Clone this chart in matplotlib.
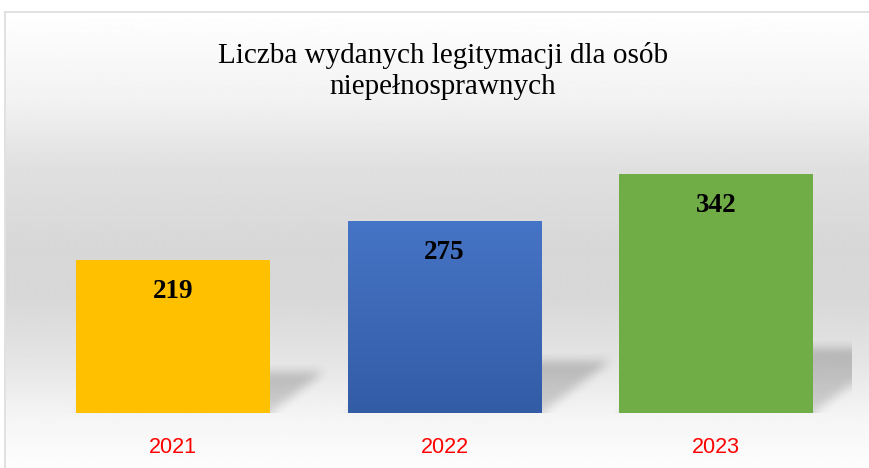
"""Liczba wydanych legitymacji dla osób niepełnosprawnych, 2021-2023."""

import numpy as np
import matplotlib

matplotlib.use("Agg")
import matplotlib.pyplot as plt  # noqa: E402
from matplotlib.colors import LinearSegmentedColormap  # noqa: E402

YEARS = ["2021", "2022", "2023"]
VALUES = [219, 275, 342]
BAR_COLORS = ["#FFC000", "#4472C4", "#70AD47"]
TITLE_LINES = ["Liczba wydanych legitymacji dla osób", "niepełnosprawnych"]

W_PX, H_PX = 869, 468
YMAX = 400


def box_blur(a, r):
    for axis in (0, 1):
        pad = [(0, 0), (0, 0)]
        pad[axis] = (r + 1, r)
        c = np.cumsum(np.pad(a, pad, mode="edge"), axis=axis)
        if axis == 0:
            a = (c[2 * r + 1:, :] - c[:-2 * r - 1, :]) / (2 * r + 1)
        else:
            a = (c[:, 2 * r + 1:] - c[:, :-2 * r - 1]) / (2 * r + 1)
    return a


def main():
    fig = plt.figure(figsize=(W_PX / 100, H_PX / 100), dpi=100)

    # background panel with vertical grey gradient and thin border
    bg = fig.add_axes([0, 0, 1, 1])
    bg.set_xlim(0, W_PX)
    bg.set_ylim(H_PX, 0)
    bg.axis("off")
    stops_y = [12, 100, 167, 250, 300, 367, 417, 468]
    stops_g = [255, 242, 224, 215, 216, 230, 245, 253]
    yy = np.arange(12, H_PX + 1)
    gray = np.interp(yy, stops_y, stops_g) / 255.0
    grad = np.repeat(gray[:, None], 2, axis=1)
    bg.imshow(grad, cmap="gray", vmin=0, vmax=1, aspect="auto",
              extent=[6, W_PX, H_PX, 12], interpolation="bilinear")
    bg.plot([5, W_PX], [12, 12], color="#dcdcdc", lw=1.2)
    bg.plot([5, 5], [12, H_PX], color="#dcdcdc", lw=1.2)

    # main plot area
    left, right, base = 37, 852, 413
    ax_h = YMAX * 0.699
    ax = fig.add_axes([left / W_PX, (H_PX - base) / H_PX,
                       (right - left) / W_PX, ax_h / H_PX])
    ax.set_xlim(-0.5, len(YEARS) - 0.5)
    ax.set_ylim(0, YMAX)
    ax.axis("off")
    ax.patch.set_alpha(0)

    # soft perspective shadows behind the bars
    nx, ny = int(right - left), int(ax_h)
    px_x = (right - left) / len(YEARS)
    px_y = ax_h / YMAX
    xs = np.arange(nx) + 0.5
    ys = np.arange(ny) + 0.5
    X, Y = np.meshgrid(xs, ys)
    width = 0.712
    mask = np.zeros((ny, nx))
    for i, v in enumerate(VALUES):
        hpx = v * px_y
        d, h = 0.36 * hpx, 0.27 * hpx
        xl = (i + 0.5 - width / 2) * px_x
        xr = (i + 0.5 + width / 2) * px_x
        sx = X - Y * d / h
        inside = (Y <= h) & (sx >= xl) & (sx <= xr)
        mask = np.maximum(mask, inside * (0.75 + 0.25 * Y / h))
    mask = box_blur(box_blur(mask, 5), 5)
    rgba = np.zeros((ny, nx, 4))
    rgba[..., 3] = 0.2 * mask
    ax.imshow(rgba, origin="lower", extent=[-0.5, len(YEARS) - 0.5, 0, YMAX],
              aspect="auto", zorder=1, interpolation="bilinear")

    x = np.arange(len(YEARS))
    bars = ax.bar(x, VALUES, width=width, color=BAR_COLORS, zorder=2)

    # blue bar has a vertical gradient
    blue = bars[1]
    cmap = LinearSegmentedColormap.from_list("b", ["#335CA6", "#4674C6"])
    g = np.linspace(0, 1, 256)[:, None]
    im = ax.imshow(g, cmap=cmap, origin="lower", aspect="auto", zorder=2.5,
                   extent=[blue.get_x(), blue.get_x() + blue.get_width(),
                           0, blue.get_height()])
    im.set_clip_path(blue)
    ax.set_xlim(-0.5, len(YEARS) - 0.5)
    ax.set_ylim(0, YMAX)

    for xi, v, yr in zip(x, VALUES, YEARS):
        ax.annotate(str(v), (xi, v), xytext=(0, -38.5), textcoords="offset pixels",
                    ha="center", va="baseline", fontsize=19.5, fontweight="bold",
                    family="Liberation Serif", color="black", zorder=3)
        ax.annotate(yr, (xi, 0), xytext=(0, -40), textcoords="offset pixels",
                    ha="center", va="baseline", fontsize=15.5,
                    family="Liberation Sans", color="#FF0000",
                    annotation_clip=False)

    for k, line in enumerate(TITLE_LINES):
        fig.text(443 / W_PX, 1 - (63 + 31 * k) / H_PX, line, ha="center",
                 va="baseline", fontsize=21, family="Liberation Serif",
                 color="black")

    fig.savefig("out.png", dpi=100)
    plt.close(fig)


if __name__ == "__main__":
    main()
